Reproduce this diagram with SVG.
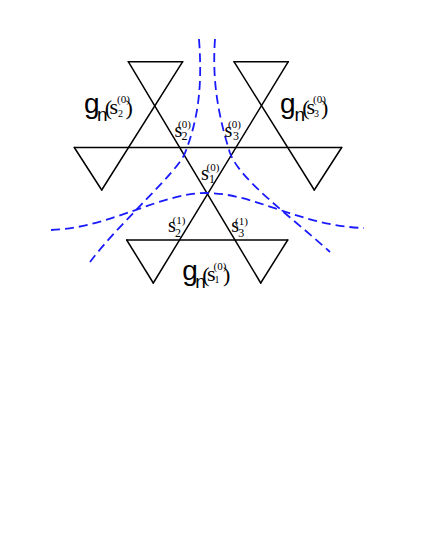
<svg xmlns="http://www.w3.org/2000/svg" width="421" height="545" viewBox="0 0 421 545">
<style>
.ln{stroke:#000;stroke-width:1.5;fill:none;stroke-linecap:round;stroke-linejoin:round}
.bd{stroke:#1a1aff;stroke-width:1.8;fill:none;stroke-dasharray:9 5}
.rm{font-family:"Liberation Serif","Times New Roman",serif;fill:#000}
.sf{font-family:"Liberation Sans",Arial,sans-serif}
</style>
<rect width="421" height="545" fill="#fff"/>
<g id="figure">
<line class="ln" x1="128.3" y1="61.7" x2="182.7" y2="61.7"/>
<line class="ln" x1="234" y1="61.7" x2="288.3" y2="61.7"/>
<line class="ln" x1="74.3" y1="147.5" x2="341.7" y2="147.5"/>
<line class="ln" x1="126.7" y1="240" x2="287.7" y2="240"/>
<line class="ln" x1="128.3" y1="61.7" x2="260.7" y2="283"/>
<line class="ln" x1="288.3" y1="61.7" x2="153.3" y2="283"/>
<line class="ln" x1="182.7" y1="61.7" x2="101.7" y2="190"/>
<line class="ln" x1="234" y1="61.7" x2="314.3" y2="190"/>
<line class="ln" x1="74.3" y1="147.5" x2="101.7" y2="190"/>
<line class="ln" x1="341.7" y1="147.5" x2="314.3" y2="190"/>
<line class="ln" x1="126.7" y1="240" x2="153.3" y2="283"/>
<line class="ln" x1="287.7" y1="240" x2="260.7" y2="283"/>
</g>
<g id="cuts">
<path class="bd" d="M199,39 C202,80 200,115 185,153 C177,173 120,222 90,262"/>
<path class="bd" d="M215,39 C212,80 218,115 230,153 C240,180 288,214 330,252"/>
<path class="bd" d="M51,230 C110,228 160,193 206,193 C255,193 300,226 364,228"/>
</g>
<g id="label-g2">
<text class="rm"><tspan class="sf" x="84" y="113" font-size="28">g</tspan><tspan class="sf" x="97" y="121" font-size="19">n</tspan><tspan x="104.8" y="115" font-size="22">(</tspan><tspan x="109.5" y="114" font-size="22">s</tspan><tspan x="117" y="103" font-size="11">(0)</tspan><tspan x="118" y="116.5" font-size="10">2</tspan><tspan x="125.5" y="115" font-size="22">)</tspan></text>
</g>
<g id="label-g3">
<text class="rm"><tspan class="sf" x="280" y="113" font-size="28">g</tspan><tspan class="sf" x="294.5" y="121" font-size="19">n</tspan><tspan x="302.3" y="115" font-size="22">(</tspan><tspan x="306.5" y="114" font-size="22">s</tspan><tspan x="313" y="103" font-size="11">(0)</tspan><tspan x="314" y="116.5" font-size="10">3</tspan><tspan x="321" y="115" font-size="22">)</tspan></text>
</g>
<g id="label-g1">
<text class="rm"><tspan class="sf" x="182.3" y="279.7" font-size="28">g</tspan><tspan class="sf" x="195.3" y="287.7" font-size="19">n</tspan><tspan x="202.3" y="281.7" font-size="22">(</tspan><tspan x="207" y="280.7" font-size="22">s</tspan><tspan x="213.5" y="270" font-size="11">(0)</tspan><tspan x="214.5" y="283" font-size="10">1</tspan><tspan x="223" y="281.7" font-size="22">)</tspan></text>
</g>
<g id="label-s2-0">
<text class="rm"><tspan x="174.5" y="137" font-size="20">s</tspan><tspan x="178" y="128" font-size="11">(0)</tspan><tspan x="181.5" y="140" font-size="12">2</tspan></text>
</g>
<g id="label-s3-0">
<text class="rm"><tspan x="224.5" y="137" font-size="20">s</tspan><tspan x="228" y="128" font-size="11">(0)</tspan><tspan x="233" y="140" font-size="12">3</tspan></text>
</g>
<g id="label-s1-0">
<text class="rm"><tspan x="201" y="180" font-size="20">s</tspan><tspan x="206.5" y="171" font-size="11">(0)</tspan><tspan x="209" y="183.3" font-size="12">1</tspan></text>
</g>
<g id="label-s2-1">
<text class="rm"><tspan x="168" y="232" font-size="20">s</tspan><tspan x="172.5" y="223.5" font-size="11">(1)</tspan><tspan x="175" y="236.7" font-size="12">2</tspan></text>
</g>
<g id="label-s3-1">
<text class="rm"><tspan x="231.2" y="232" font-size="20">s</tspan><tspan x="235" y="224.5" font-size="11">(1)</tspan><tspan x="238.3" y="237.3" font-size="12">3</tspan></text>
</g>
</svg>
